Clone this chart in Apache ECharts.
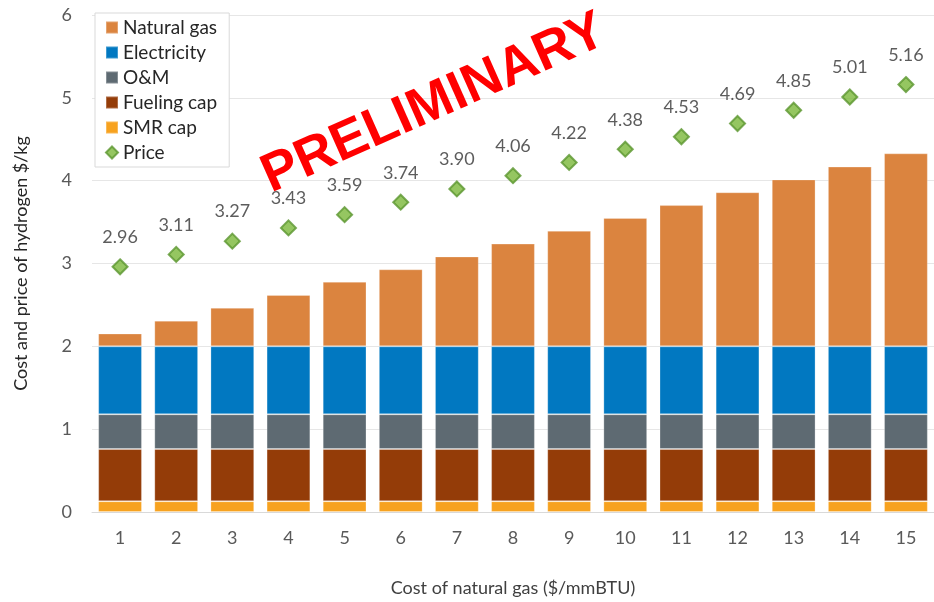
<!DOCTYPE html>
<html>
<head>
<meta charset="utf-8">
<script src="https://cdn.jsdelivr.net/npm/echarts@6/dist/echarts.min.js"></script>
<style>
  html, body { margin: 0; padding: 0; background: #fff; }
  #chart { width: 934px; height: 602px; }
</style>
</head>
<body>
<div id="chart"></div>
<script>
// cost of natural gas ($/mmBTU)
var categories = ['1', '2', '3', '4', '5', '6', '7', '8', '9', '10', '11', '12', '13', '14', '15']
var smrCap = [0.13, 0.13, 0.13, 0.13, 0.13, 0.13, 0.13, 0.13, 0.13, 0.13, 0.13, 0.13, 0.13, 0.13, 0.13]
var fuelingCap = [0.63, 0.63, 0.63, 0.63, 0.63, 0.63, 0.63, 0.63, 0.63, 0.63, 0.63, 0.63, 0.63, 0.63, 0.63]
var om = [0.42, 0.42, 0.42, 0.42, 0.42, 0.42, 0.42, 0.42, 0.42, 0.42, 0.42, 0.42, 0.42, 0.42, 0.42]
var electricity = [0.82, 0.82, 0.82, 0.82, 0.82, 0.82, 0.82, 0.82, 0.82, 0.82, 0.82, 0.82, 0.82, 0.82, 0.82]
var naturalGas = [0.155, 0.31, 0.465, 0.62, 0.78, 0.93, 1.085, 1.24, 1.395, 1.55, 1.705, 1.86, 2.015, 2.17, 2.33]
var price = [2.96, 3.11, 3.27, 3.43, 3.59, 3.74, 3.90, 4.06, 4.22, 4.38, 4.53, 4.69, 4.85, 5.01, 5.16]
var yTicks = [0, 1, 2, 3, 4, 5, 6]

var font = 'Lato, "Open Sans", sans-serif'

function barSeries(name, data, color) {
  return {
    name: name,
    type: 'bar',
    stack: 'cost',
    data: data,
    barCategoryGap: '22%',
    itemStyle: { color: color, borderColor: 'rgba(255,255,255,0.25)', borderWidth: 1 },
    emphasis: { disabled: true }
  }
}

var chart = echarts.init(document.getElementById('chart'))

var option = {
  animation: false,
  backgroundColor: '#ffffff',
  textStyle: { fontFamily: font },
  grid: { left: 92, right: -6, top: 15, bottom: 89, containLabel: false },
  legend: {
    orient: 'vertical',
    left: 95,
    top: 13,
    backgroundColor: '#ffffff',
    borderColor: '#d9d9d9',
    borderWidth: 1,
    padding: [5, 12, 5, 10],
    itemGap: 6,
    itemWidth: 12,
    itemHeight: 12,
    textStyle: { fontSize: 19, color: '#262626', fontFamily: font },
    data: [
      { name: 'Natural gas', icon: 'rect' },
      { name: 'Electricity', icon: 'rect' },
      { name: 'O&M', icon: 'rect' },
      { name: 'Fueling cap', icon: 'rect' },
      { name: 'SMR cap', icon: 'rect' },
      { name: 'Price', icon: 'diamond' }
    ]
  },
  xAxis: {
    type: 'category',
    data: categories,
    name: 'Cost of natural gas ($/mmBTU)',
    nameLocation: 'middle',
    nameGap: 67,
    nameTextStyle: { fontSize: 18, color: '#404040' },
    axisLine: { lineStyle: { color: '#d9d9d9', width: 1 } },
    axisTick: { show: false },
    axisLabel: { fontSize: 18, color: '#595959', margin: 17 }
  },
  yAxis: {
    type: 'value',
    min: yTicks[0],
    max: yTicks[yTicks.length - 1],
    interval: 1,
    name: 'Cost and price of hydrogen $/kg',
    nameLocation: 'middle',
    nameGap: 62,
    nameTextStyle: { fontSize: 18, color: '#262626' },
    axisLine: { show: false },
    axisTick: { show: false },
    axisLabel: { fontSize: 18, color: '#595959', margin: 20 },
    splitLine: { lineStyle: { color: '#e6e6e6', width: 1 } }
  },
  series: [
    barSeries('SMR cap', smrCap, '#f7a21f'),
    barSeries('Fueling cap', fuelingCap, '#943c08'),
    barSeries('O&M', om, '#5e6a72'),
    barSeries('Electricity', electricity, '#0178c1'),
    barSeries('Natural gas', naturalGas, '#db843f'),
    {
      name: 'Price',
      type: 'scatter',
      data: price,
      symbol: 'diamond',
      symbolSize: 15,
      itemStyle: { color: '#7ab83a', borderColor: '#5b9630', borderWidth: 2 },
      label: {
        show: true,
        position: 'top',
        distance: 12,
        fontSize: 18,
        color: '#333333',
        formatter: function (p) { return p.value.toFixed(2) }
      },
      z: 5
    }
  ],
  graphic: [
    {
      type: 'text',
      x: 434,
      y: 104,
      rotation: 24 * Math.PI / 180,
      z: 100,
      style: {
        text: 'PRELIMINARY',
        fill: '#ff0000',
        font: 'bold 54px "Liberation Sans", Arial, sans-serif',
        align: 'center',
        verticalAlign: 'middle'
      }
    }
  ]
}

chart.setOption(option)
</script>
</body>
</html>
